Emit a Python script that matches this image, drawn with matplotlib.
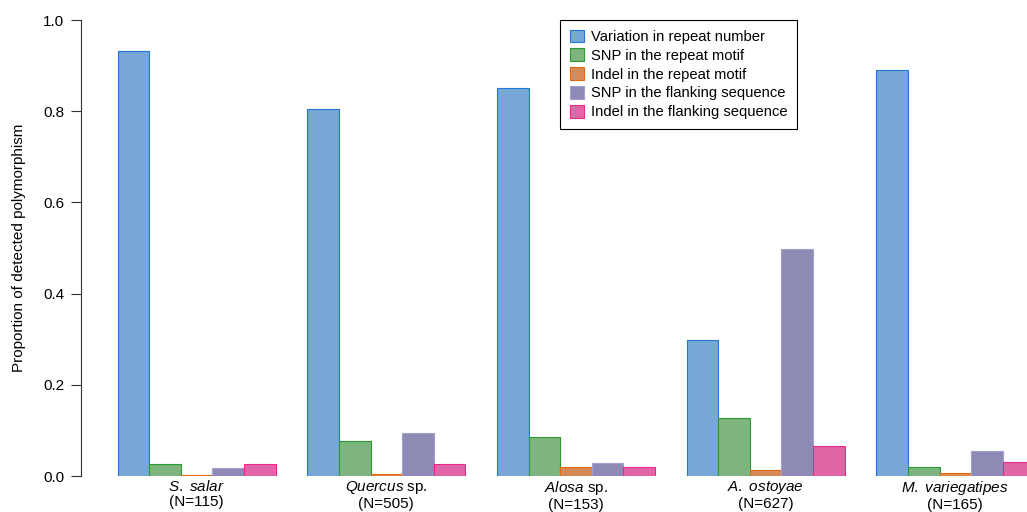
import matplotlib
matplotlib.use('Agg')
import matplotlib.pyplot as plt
import numpy as np

plt.rcParams['font.family'] = ['Liberation Sans', 'DejaVu Sans']
plt.rcParams['mathtext.fontset'] = 'custom'
plt.rcParams['mathtext.rm'] = 'Liberation Sans'
plt.rcParams['mathtext.it'] = 'Liberation Sans:italic'
plt.rcParams['font.size'] = 11

species = [r'$\mathit{S.}$ $\mathit{salar}$', r'$\mathit{Quercus}$ sp.', r'$\mathit{Alosa}$ sp.',
           r'$\mathit{A.}$ $\mathit{ostoyae}$', r'$\mathit{M.}$ $\mathit{variegatipes}$']
counts = [115, 505, 153, 627, 165]

series_labels = ['Variation in repeat number', 'SNP in the repeat motif',
                 'Indel in the repeat motif', 'SNP in the flanking sequence',
                 'Indel in the flanking sequence']

repeat_number = [0.932, 0.805, 0.851, 0.299, 0.890]
snp_motif = [0.027, 0.076, 0.085, 0.127, 0.019]
indel_motif = [0.002, 0.004, 0.020, 0.014, 0.007]
snp_flank = [0.018, 0.094, 0.028, 0.498, 0.055]
indel_flank = [0.027, 0.026, 0.020, 0.066, 0.031]

fills = ['#77a7d5', '#7eb47d', '#d68b56', '#8d8bb5', '#e066a7']
edges = ['#1f78d6', '#2a9a32', '#e06a12', '#a29ecf', '#e7298a']

data = [repeat_number, snp_motif, indel_motif, snp_flank, indel_flank]

fig = plt.figure(figsize=(10.27, 5.12), dpi=100)
# barplot-style layout: one bar width gap before each group, axis extends past the right edge
ax = fig.add_axes([81 / 1027, 36 / 512, 990 / 1027, 474.24 / 512])

n_groups = len(species)
starts = 1 + 6 * np.arange(n_groups)
for i, vals in enumerate(data):
    ax.bar(starts + i, vals, width=1, align='edge', color=fills[i],
           edgecolor=edges[i], linewidth=0.8, label=series_labels[i])

ax.set_xlim(-0.16, 31.16)
ax.set_ylim(0, 1.04)

ax.set_xticks(starts + 2.5)
ax.set_xticklabels([f'{s}\n(N={n})' for s, n in zip(species, counts)], linespacing=1.1)
ax.tick_params(axis='x', length=0, pad=2)

ax.set_yticks(np.arange(0, 1.01, 0.2))
ax.set_yticklabels([f'{v:.1f}' for v in np.arange(0, 1.01, 0.2)])
ax.tick_params(axis='y', length=7, width=0.8, pad=5, color='#333333')
ax.set_ylabel('Proportion of detected polymorphism')
ax.yaxis.set_label_coords(-55 / 990, 0.5 / 1.04)

for side in ['top', 'right', 'bottom']:
    ax.spines[side].set_visible(False)
ax.spines['left'].set_bounds(0, 1)
ax.spines['left'].set_linewidth(0.8)
ax.spines['left'].set_color('#333333')

leg = ax.legend(loc='upper left', bbox_to_anchor=(560 / 1027, 1 - 20 / 512),
                bbox_transform=fig.transFigure, fancybox=False, frameon=True,
                edgecolor='black', framealpha=1, borderaxespad=0,
                handlelength=0.95, handleheight=0.95, handletextpad=0.5,
                labelspacing=0.3, borderpad=0.65, fontsize=10.6)
leg.get_frame().set_linewidth(0.8)

fig.savefig('out.png', dpi=100)
